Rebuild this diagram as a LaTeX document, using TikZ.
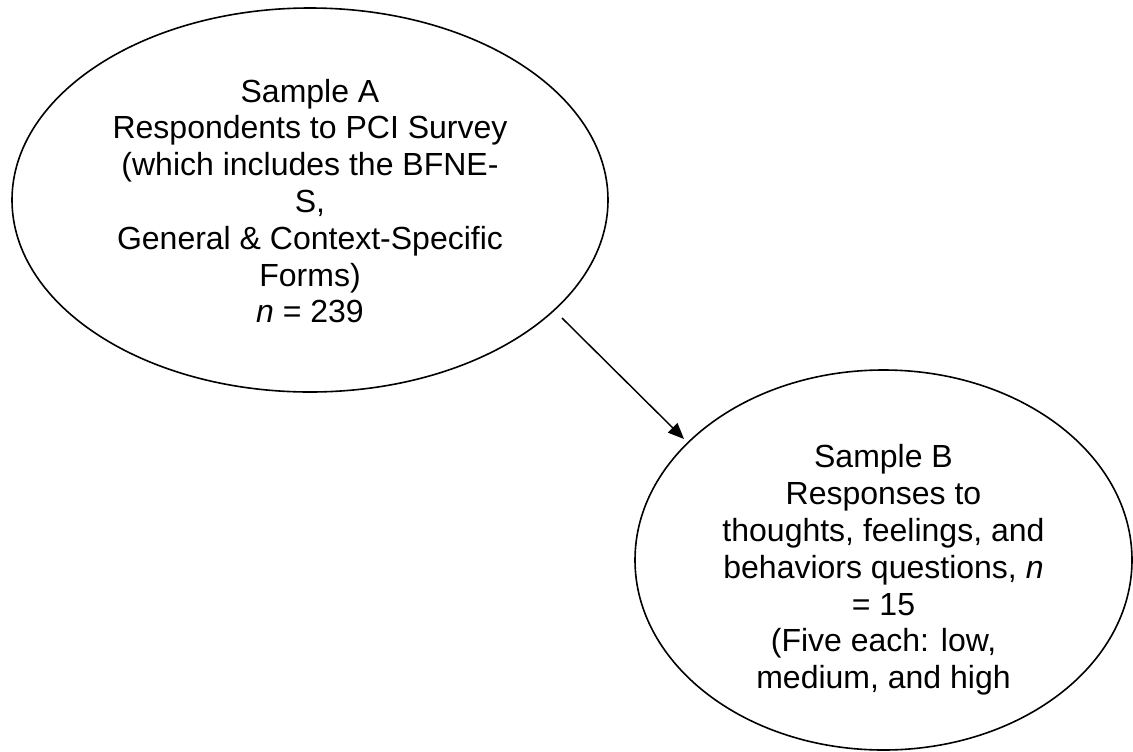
\documentclass[tikz,border=0pt]{standalone}
\usepackage{fontspec}
\setmainfont{Liberation Sans}
\usetikzlibrary{shapes.geometric,arrows.meta}
\tikzset{
  oval/.style={draw=black, line width=1.2pt, ellipse, inner sep=0pt},
  lbl/.style={align=center, inner sep=0pt, font=\fontsize{24}{27.6}\selectfont},
  conn/.style={draw=black, line width=1.1pt, -{Triangle[length=12pt,width=10pt]}}
}
\begin{document}
\begin{tikzpicture}[x=0.75pt,y=-0.75pt]
\useasboundingbox (0,0) rectangle (1133,751);
\node[oval, minimum width=447pt, minimum height=288pt] (a) at (310,200) {};
\node[oval, minimum width=372.75pt, minimum height=285pt] (b) at (883.5,560) {};
\node[lbl] (ta) at (310,201) {Sample A\\Respondents to PCI Survey\\(which includes the BFNE-\\S,\\General \& Context-Specific\\Forms)\\\textit{n} = 239};
\node[lbl] (tb) at (883.5,570) {Sample B\\Responses to\\thoughts, feelings, and\\behaviors questions, \textit{n}\\= 15\\(Five each: low,\\medium, and high};
\coordinate (arrS) at (562,318);
\coordinate (arrE) at (684,439);
\draw[conn] (arrS) -- (arrE);
\end{tikzpicture}
\end{document}
